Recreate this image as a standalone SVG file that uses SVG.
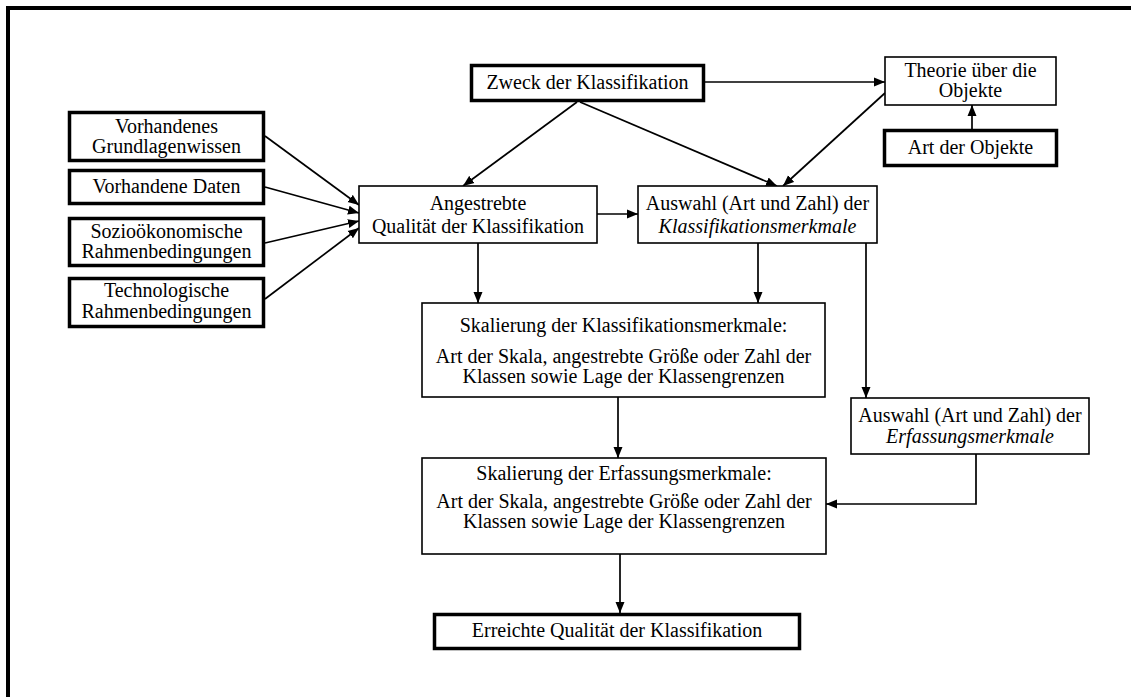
<svg xmlns="http://www.w3.org/2000/svg" width="1131" height="697" viewBox="0 0 1131 697">
  <defs>
    <style>
      .thin { fill: #fff; stroke: #000; stroke-width: 1.6; }
      .thick { fill: #fff; stroke: #000; stroke-width: 3.5; }
      text { font-family: "Liberation Serif", "Times New Roman", serif; font-size: 20px; fill: #000; text-anchor: middle; }
      .it { font-style: italic; }
      .edge { fill: none; stroke: #000; stroke-width: 1.7; marker-end: url(#arrow); }
    </style>
    <marker id="arrow" markerUnits="userSpaceOnUse" markerWidth="12" markerHeight="10" refX="11" refY="5" orient="auto">
      <path d="M0,0.5 L11,5 L0,9.5 z" fill="#000"/>
    </marker>
  </defs>

  <rect width="1131" height="697" fill="#fff"/>
  <!-- page frame (top and left edges) -->
  <path d="M8,697 V8 H1131" fill="none" stroke="#000" stroke-width="4"/>

  <g id="connectors">
    <path class="edge" d="M265,136 L359,205"/>
    <path class="edge" d="M265,187 L359,213"/>
    <path class="edge" d="M265,243 L359,221"/>
    <path class="edge" d="M265,299 L359,228"/>
    <path class="edge" d="M705,82 H885"/>
    <path class="edge" d="M972,129 V105"/>
    <path class="edge" d="M885,93 L783,186"/>
    <path class="edge" d="M577,102 L463,186"/>
    <path class="edge" d="M580,102 L777,186"/>
    <path class="edge" d="M597,214 H638"/>
    <path class="edge" d="M478,243 V303"/>
    <path class="edge" d="M758,243 V303"/>
    <path class="edge" d="M866,243 V398"/>
    <path class="edge" d="M618,397 V458"/>
    <path class="edge" d="M976,454 V504 H826"/>
    <path class="edge" d="M620,554 V613"/>
  </g>

  <g id="zweck">
    <rect class="thick" x="471.5" y="65.5" width="232" height="35"/>
    <text x="587.5" y="89">Zweck der Klassifikation</text>
  </g>

  <g id="theorie">
    <rect class="thin" x="885" y="57" width="171" height="48"/>
    <text x="970.5" y="77">Theorie über die</text>
    <text x="970.5" y="97">Objekte</text>
  </g>

  <g id="art-objekte">
    <rect class="thick" x="884.5" y="130.5" width="172" height="35"/>
    <text x="970.5" y="154">Art der Objekte</text>
  </g>

  <g id="grundlagenwissen">
    <rect class="thick" x="69.5" y="112.5" width="194" height="48"/>
    <text x="166.5" y="133">Vorhandenes</text>
    <text x="166.5" y="153">Grundlagenwissen</text>
  </g>

  <g id="daten">
    <rect class="thick" x="69.5" y="170.5" width="194" height="33"/>
    <text x="166.5" y="193">Vorhandene Daten</text>
  </g>

  <g id="soziooekonomisch">
    <rect class="thick" x="69.5" y="218.5" width="194" height="47"/>
    <text x="166.5" y="238">Sozioökonomische</text>
    <text x="166.5" y="258">Rahmenbedingungen</text>
  </g>

  <g id="technologisch">
    <rect class="thick" x="69.5" y="278.5" width="194" height="48"/>
    <text x="166.5" y="297">Technologische</text>
    <text x="166.5" y="318">Rahmenbedingungen</text>
  </g>

  <g id="angestrebte-qualitaet">
    <rect class="thin" x="359" y="186" width="238" height="57"/>
    <text x="478" y="210">Angestrebte</text>
    <text x="478" y="233">Qualität der Klassifikation</text>
  </g>

  <g id="auswahl-klassifikationsmerkmale">
    <rect class="thin" x="638" y="186" width="239" height="57"/>
    <text x="757.5" y="210">Auswahl (Art und Zahl) der</text>
    <text x="757.5" y="233" class="it">Klassifikationsmerkmale</text>
  </g>

  <g id="skalierung-klassifikation">
    <rect class="thin" x="422" y="303" width="403" height="94"/>
    <text x="623.5" y="332">Skalierung der Klassifikationsmerkmale:</text>
    <text x="623.5" y="363">Art der Skala, angestrebte Größe oder Zahl der</text>
    <text x="623.5" y="383">Klassen sowie Lage der Klassengrenzen</text>
  </g>

  <g id="auswahl-erfassungsmerkmale">
    <rect class="thin" x="851" y="398" width="238" height="56"/>
    <text x="970" y="422">Auswahl (Art und Zahl) der</text>
    <text x="970" y="443" class="it">Erfassungsmerkmale</text>
  </g>

  <g id="skalierung-erfassung">
    <rect class="thin" x="422" y="458" width="404" height="96"/>
    <text x="624" y="480">Skalierung der Erfassungsmerkmale:</text>
    <text x="624" y="508">Art der Skala, angestrebte Größe oder Zahl der</text>
    <text x="624" y="528">Klassen sowie Lage der Klassengrenzen</text>
  </g>

  <g id="erreichte-qualitaet">
    <rect class="thick" x="434.5" y="614.5" width="365" height="34"/>
    <text x="617" y="637">Erreichte Qualität der Klassifikation</text>
  </g>
</svg>
